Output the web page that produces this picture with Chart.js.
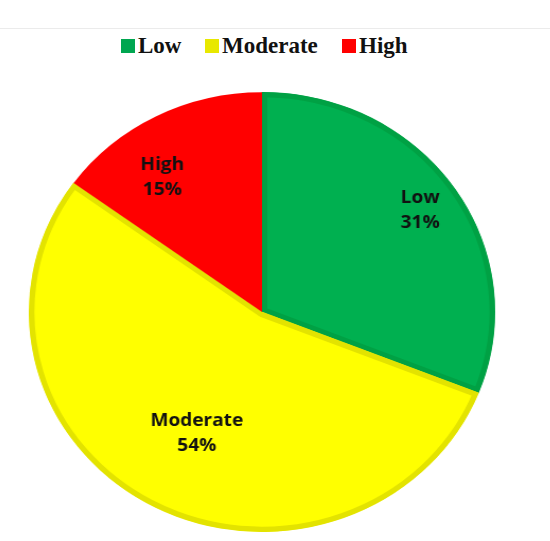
<!DOCTYPE html>
<html>
<head>
<meta charset="utf-8">
<script src="https://cdn.jsdelivr.net/npm/chart.js@4.4.1/dist/chart.umd.min.js"></script>
<style>
  html, body { margin: 0; padding: 0; background: #fff; width: 550px; height: 541px; overflow: hidden; }
  #topline { position: absolute; left: 0; top: 28px; width: 550px; height: 1px; background: #ebebeb; }
  #legend { position: absolute; left: 0; top: 31px; width: 550px; height: 30px; }
  .item { position: absolute; top: 0; font-family: 'Liberation Serif', serif; font-weight: bold; font-size: 23px; color: #111; line-height: 30px; }
  .box { position: absolute; top: 8px; width: 14px; height: 14px; }
  #wrap { position: absolute; left: 42px; top: 92px; width: 440px; height: 440px; transform: scaleX(1.06); transform-origin: 220px 220px; }
</style>
</head>
<body>
<div id="topline"></div>
<div id="legend"></div>
<div id="wrap"><canvas id="myChart" width="440" height="440"></canvas></div>
<script>
// datos
const categorias = ['Low', 'Moderate', 'High'];
const porcentajes = [31, 54, 15];

// estilos
const colores = ['#00b050', '#ffff00', '#ff0000'];
const bordes = ['#00a144', '#e3e300', '#ff0000'];
const anchoBorde = [5, 5, 0];
const legendColores = ['#00a650', '#e8e800', '#ff0000'];
// posicion de etiquetas: fraccion del radio y giro en grados
const etiquetaRadio = [0.82, 0.62, 0.745];
const etiquetaGiro = [0, -2, -8];

// leyenda en html
const legendPos = [121, 205, 342];
const legend = document.getElementById('legend');
categorias.forEach((cat, i) => {
    const box = document.createElement('div');
    box.className = 'box';
    box.style.left = legendPos[i] + 'px';
    box.style.background = legendColores[i];
    legend.appendChild(box);
    const txt = document.createElement('div');
    txt.className = 'item';
    txt.style.left = (legendPos[i] + 17) + 'px';
    txt.textContent = cat;
    legend.appendChild(txt);
});

const etiquetas = {
    id: 'etiquetas',
    afterDatasetsDraw(chart) {
        const ctx = chart.ctx;
        const meta = chart.getDatasetMeta(0);
        ctx.save();
        ctx.fillStyle = '#111';
        ctx.font = 'bold 18px "Open Sans"';
        ctx.textAlign = 'center';
        ctx.textBaseline = 'middle';
        meta.data.forEach((arc, i) => {
            const p = arc.getProps(['x', 'y', 'startAngle', 'endAngle', 'outerRadius'], true);
            const ang = (p.startAngle + p.endAngle) / 2 + etiquetaGiro[i] * Math.PI / 180;
            const r = p.outerRadius * etiquetaRadio[i];
            const x = p.x + Math.cos(ang) * r;
            const y = p.y + Math.sin(ang) * r;
            ctx.fillText(categorias[i], x, y - 12.5);
            ctx.fillText(porcentajes[i] + '%', x, y + 12.5);
        });
        ctx.restore();
    }
};

const ctx = document.getElementById('myChart').getContext('2d');
new Chart(ctx, {
    type: 'pie',
    data: {
        labels: categorias,
        datasets: [{
            data: porcentajes,
            backgroundColor: colores,
            borderColor: bordes,
            borderWidth: anchoBorde,
            borderAlign: 'inner',
            hoverOffset: 0,
            hoverBorderWidth: anchoBorde
        }]
    },
    options: {
        responsive: false,
        animation: false,
        layout: { padding: 0 },
        plugins: {
            legend: { display: false },
            tooltip: { enabled: false }
        }
    },
    plugins: [etiquetas]
});
</script>
</body>
</html>
